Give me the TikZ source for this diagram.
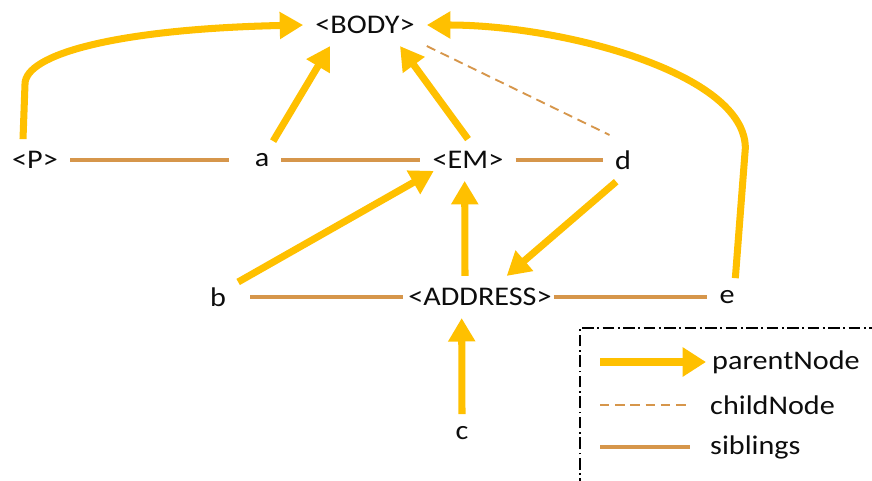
\documentclass[tikz,border=0pt]{standalone}
\usepackage{fontspec}
\setmainfont[FakeStretch=1.12]{Carlito}
\usepackage{xcolor}
\usetikzlibrary{arrows.meta}
\definecolor{parentgold}{HTML}{FFC000}
\definecolor{siblingtan}{HTML}{D6964B}
\tikzset{
  every picture/.style={line join=round, >=Stealth},
  tag/.style={font=\fontsize{23}{27}\selectfont, text=black!95, inner sep=0.36cm},
  parent/.style={draw=parentgold, line width=6pt, -{Triangle[length=20pt,width=22pt]}},
  child/.style={draw=siblingtan, line width=1.6pt, dash pattern=on 8pt off 5pt},
  sibling/.style={draw=siblingtan, line width=4.2pt},
  keytext/.style={font=\fontsize{23}{27}\selectfont, text=black!95, anchor=west, inner sep=0pt},
}

\begin{document}
\begin{tikzpicture}[x=0.03cm,y=-0.03cm]
\clip (0,0) rectangle (872,481);
% tags and text nodes
\node[tag] (BODY) at (365,25) {<BODY>};
\node[tag] (P) at (35,160) {<P>};
\node[tag] (a) at (262,160) {a};
\node[tag] (EM) at (468,160) {<EM>};
\node[tag] (d) at (623,160) {d};
\node[tag] (b) at (218,297) {b};
\node[tag] (ADDRESS) at (480,297) {<ADDRESS>};
\node[tag] (e) at (727,297) {e};
\node[tag] (c) at (462,433) {c};
% siblings
\draw[sibling, shorten >=0.4cm] (P) -- (a);
\draw[sibling] (a) -- (EM);
\draw[sibling] (EM) -- (d);
\draw[sibling, shorten <=0.36cm, shorten >=-0.2cm] (b) -- (ADDRESS);
\draw[sibling, shorten <=-0.3cm] (ADDRESS) -- (e);
% child
\draw[child] (BODY.south east) -- ([xshift=0.2cm,yshift=0.1cm]d.north west);
% parents
\draw[parent] ([xshift=-0.36cm]P.north) -- ++(2,-55) .. controls +(0,-30) and +(-186,4) .. (BODY.west);
\draw[parent] ([xshift=-0.25cm]a.north east) -- ([xshift=-1.05cm]BODY.south);
\draw[parent] (EM.north) -- ([xshift=1.05cm]BODY.south);
\draw[parent] ([xshift=0.25cm]e.north) -- ++(10,-130) .. controls +(0,-75) and +(135,0) .. (BODY.east);
\draw[parent] ([yshift=-0.2cm]b.north east) -- ([xshift=0.4cm,yshift=0.3cm]EM.south west);
\draw[parent] ([xshift=0.4cm]d.south west) -- ([xshift=0.8cm]ADDRESS.north);
\draw[parent] ([xshift=-0.45cm]ADDRESS.north) -- ([xshift=-0.1cm]EM.south);
\draw[parent] (c.north) -- ([xshift=-0.55cm]ADDRESS.south);
% key
\draw[line width=1.2pt, dash pattern=on 10pt off 3pt on 1.5pt off 3pt] (580,490) -- (580,328) -- (890,328);
\coordinate (k1) at (600,362); \coordinate (k1e) at (706,362);
\coordinate (k2) at (600,405); \coordinate (k2e) at (690,405);
\coordinate (k3) at (600,447); \coordinate (k3e) at (690,447);
\draw[parent, line width=7.5pt, -{Triangle[length=20pt,width=24pt]}] (k1) -- (k1e);
\draw[child] (k2) -- (k2e);
\draw[sibling] (k3) -- (k3e);
\node[keytext] (kparent) at (712,362) {parentNode};
\node[keytext] (kchild) at (710,405) {childNode};
\node[keytext] (ksib) at (710,447) {siblings};
\end{tikzpicture}
\end{document}
